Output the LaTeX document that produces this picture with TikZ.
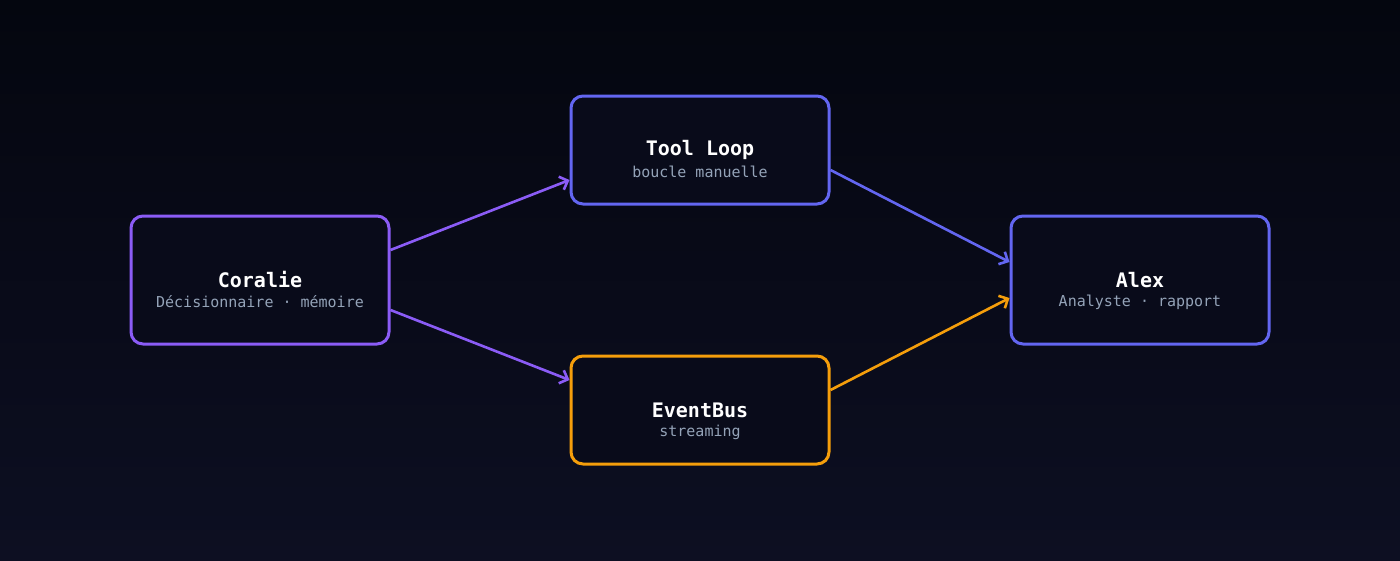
\documentclass[tikz,border=0pt]{standalone}
\usepackage{fontspec}
\setmonofont{DejaVu Sans Mono}
\usetikzlibrary{arrows.meta,calc}
\definecolor{bgtop}{HTML}{04060F}
\definecolor{bgbot}{HTML}{0D0F22}
\definecolor{boxfill}{HTML}{090B1A}
\definecolor{cpurple}{HTML}{8B5CF6}
\definecolor{cindigo}{HTML}{6366F1}
\definecolor{corange}{HTML}{F59E0B}
\definecolor{subgray}{HTML}{94A3B8}
\tikzset{
  box/.style={draw, line width=3pt, fill=boxfill, rounded corners=12pt, minimum width=258pt, inner sep=0pt},
  ttl/.style={text=white, font=\ttfamily\bfseries\fontsize{20}{22}\selectfont, inner sep=0pt, anchor=center},
  sub/.style={text=subgray, font=\ttfamily\fontsize{15}{17}\selectfont, inner sep=0pt, anchor=center},
  conn/.style={line width=2.6pt, -{Straight Barb[length=7pt,width=14pt,line width=2.6pt]}}
}
\begin{document}
\begin{tikzpicture}[x=1pt,y=-1pt]
\shade[top color=bgtop, bottom color=bgbot] (0,0) rectangle (1400,560);
\useasboundingbox (0,0) rectangle (1400,560);

\node[box, draw=cpurple, minimum height=128pt] (coralie) at (260,280) {};
\node[box, draw=cindigo, minimum height=108pt] (tool) at (700,150) {};
\node[box, draw=corange, minimum height=108pt] (bus) at (700,410) {};
\node[box, draw=cindigo, minimum height=128pt] (alex) at (1140,280) {};

\node[ttl] (coralieT) at ($(coralie.center)+(0,0)$) {Coralie};
\node[sub] (coralieS) at ($(coralie.center)+(0,22)$) {Décisionnaire · mémoire};
\node[ttl] (toolT) at ($(tool.center)+(0,0)$) {Tool Loop};
\node[sub] (toolS) at ($(tool.center)+(0,22)$) {boucle manuelle};
\node[ttl] (busT) at ($(bus.center)+(0,0)$) {EventBus};
\node[sub] (busS) at ($(bus.center)+(0,22)$) {streaming};
\node[ttl] (alexT) at ($(alex.center)+(0,0)$) {Alex};
\node[sub] (alexS) at ($(alex.center)+(0,22)$) {Analyste · rapport};

\draw[conn, cpurple] ($(coralie.east)+(0,-30)$) -- ($(tool.west)+(0,30)$);
\draw[conn, cpurple] ($(coralie.east)+(0,30)$) -- ($(bus.west)+(0,-30)$);
\draw[conn, cindigo] ($(tool.east)+(0,20)$) -- ($(alex.west)+(0,-18)$);
\draw[conn, corange] ($(bus.east)+(0,-20)$) -- ($(alex.west)+(0,18)$);
\end{tikzpicture}
\end{document}
